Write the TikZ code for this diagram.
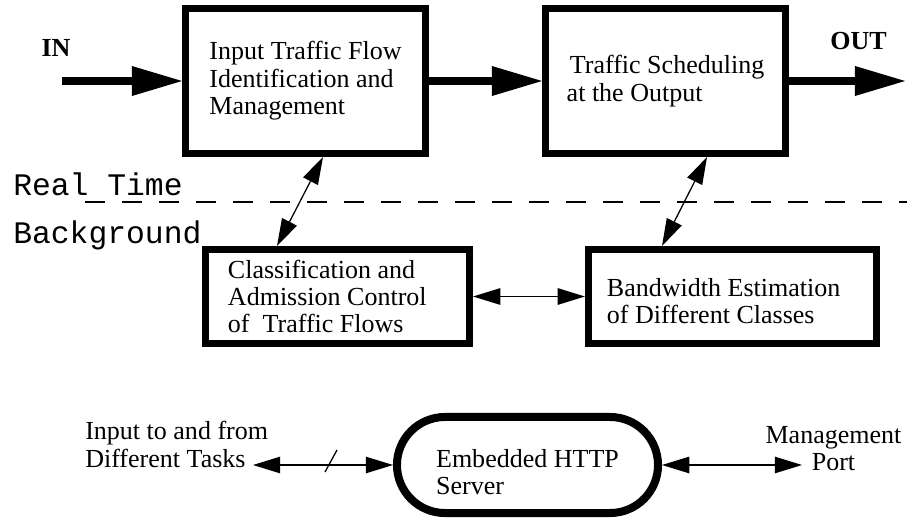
\documentclass[tikz,border=0pt]{standalone}
\usepackage{fontspec}
\setmainfont{Liberation Serif}
\setmonofont{Liberation Mono}
\usetikzlibrary{arrows.meta,calc}
\begin{document}
\begin{tikzpicture}[x=0.025cm,y=-0.025cm,
  every node/.style={inner sep=0pt},
  txt/.style={align=left,font=\fontsize{18.5}{19.5}\selectfont},
  block/.style={txt,draw,line width=5pt},
  tag/.style={font=\fontsize{18.5}{20}\selectfont\bfseries,anchor=base},
  zone/.style={font=\fontsize{22.3}{24}\selectfont\ttfamily,anchor=base west},
  bigflow/.style={line width=5.7pt,-{Triangle[length=1.25cm,width=0.75cm,line width=0pt]}},
  duplex/.style={line width=0.9pt,{Triangle[length=0.68cm,width=0.42cm,line width=0pt]}-{Triangle[length=0.68cm,width=0.42cm,line width=0pt]}}]
\useasboundingbox (0,0) rectangle (907,519);
% real time / background divider
\draw [line width=0.9pt,dash pattern=on 0.5cm off 0.425cm] (85,202) -- (907,202);
\node [zone] (rt) at (13,195) {Real Time};
\node [zone] (bg) at (13,243) {Background};
% real time blocks
\node [block,minimum width=6cm,minimum height=3.625cm] (ident) at (305.5,81) {Input Traffic Flow\\Identification and\\Management};
\node [block,minimum width=6cm,minimum height=3.625cm] (sched) at (665.5,81) {\hspace{0.08cm}Traffic Scheduling\\at the Output};
\node [tag] (inlbl) at (56,57) {IN};
\node [tag] (outlbl) at (858.5,50) {OUT};
\coordinate (src) at (62,81);
\coordinate (sink) at (905,81);
\draw [bigflow] (src) -- (ident.west);
\draw [bigflow] (ident.east) -- (sched.west);
\draw [bigflow] (sched.east) -- (sink);
% background blocks
\node [block,align=flush left,text width=5.475cm,minimum width=6.6cm,minimum height=2.35cm] (admit) at (337.5,296.5) {Classification and\\Admission Control\\of\ \ Traffic Flows};
\node [block,align=flush left,text width=6.275cm,minimum width=7.2cm,minimum height=2.35cm] (bwest) at (732.5,296.5) {\rule{0pt}{19.7pt}Bandwidth Estimation\\of Different Classes};
\draw [duplex] ($(ident.south)+(17.5,0)$) -- ($(admit.north)+(-60.5,0)$);
\draw [duplex] ($(sched.south)+(41.5,0)$) -- ($(bwest.north)+(-70.5,0)$);
\draw [duplex] (admit.east) -- (bwest.west);
% http server
\node [block,line width=5.7pt,rounded corners=1.2cm,minimum width=6.525cm,minimum height=2.4cm] (http) at (527.5,465) {\rule{0pt}{22.6pt}Embedded HTTP\\Server};
\node [txt,anchor=west] (tasks) at (85,444.5) {Input to and from\\Different Tasks};
\node [txt,align=center] (mgmt) at (833.5,448.7) {Management\\Port};
\coordinate (tasksend) at (253,465);
\coordinate (portend) at (802,465);
\draw [duplex] (tasksend) -- (http.west);
\draw [line width=0.9pt] (325,472) -- (337,450);
\draw [duplex] (http.east) -- (portend);
\end{tikzpicture}
\end{document}
